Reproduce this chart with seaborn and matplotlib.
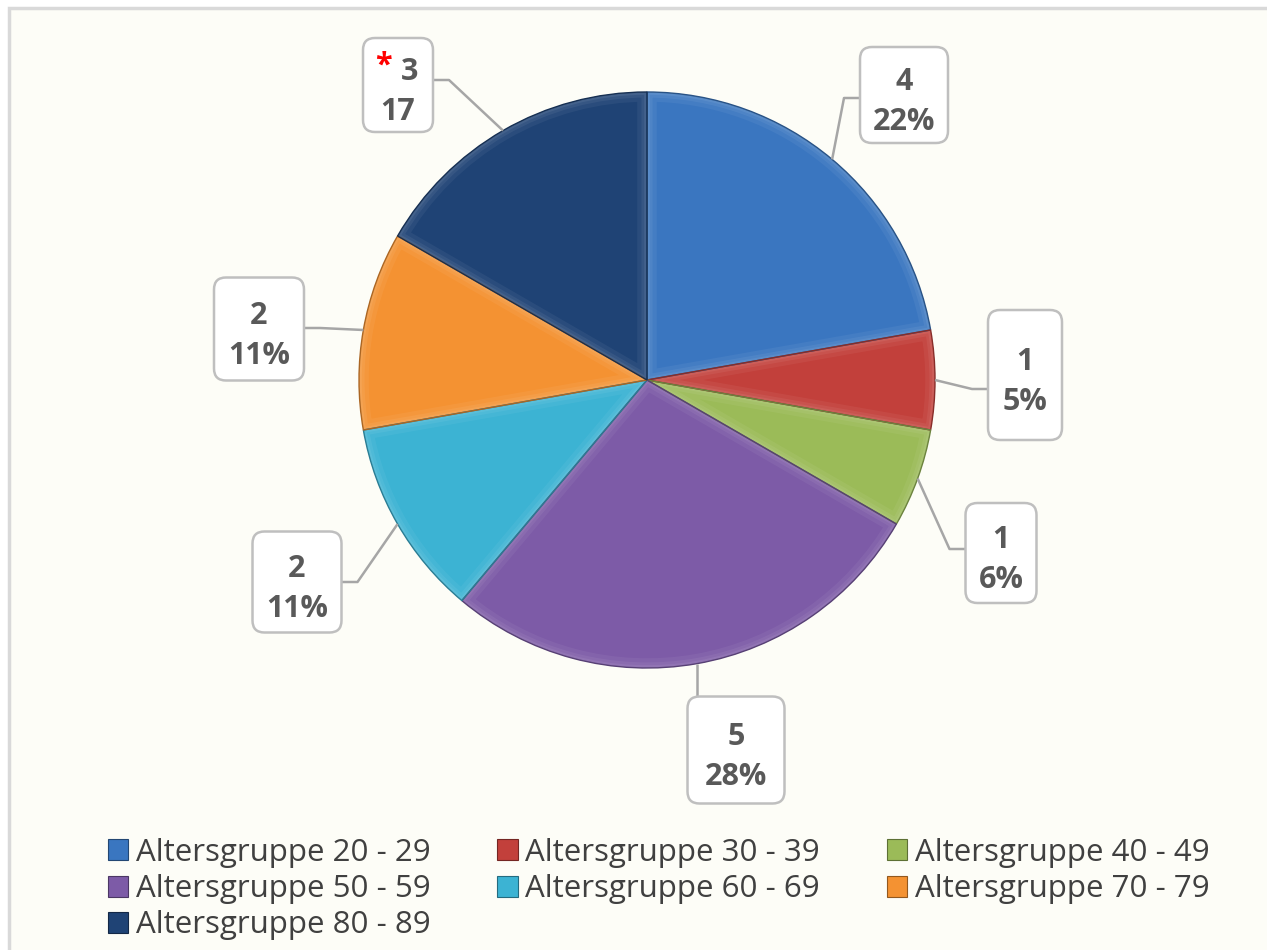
import numpy as np
import matplotlib
matplotlib.use("Agg")
import matplotlib.pyplot as plt
from matplotlib.patches import Rectangle, FancyBboxPatch, Patch, Wedge
import matplotlib.colors as mcolors
import seaborn as sns

# Daten
groups = ["Altersgruppe 20 - 29", "Altersgruppe 30 - 39", "Altersgruppe 40 - 49",
          "Altersgruppe 50 - 59", "Altersgruppe 60 - 69", "Altersgruppe 70 - 79",
          "Altersgruppe 80 - 89"]
counts = [4, 1, 1, 5, 2, 2, 3]
pct_labels = ["22%", "5%", "6%", "28%", "11%", "11%", "17"]
flags = ["", "", "", "", "", "", "*"]
colors = ["#3A76C0", "#C2403B", "#9BBB58", "#7D5BA7", "#3CB3D3", "#F49232", "#1F4375"]

# Layout (Pixel): Kreismitte, Radius, Beschriftungsboxen
W, H = 1267, 950
cx, cy, rad = 647, 380, 288
box_centers = [(904, 95), (1025, 375), (1001, 553), (736, 750),
               (297, 582), (259, 329), (398, 85)]
box_sizes = [(88, 96), (74, 130), (71, 100), (97, 107), (89, 101), (90, 103), (70, 94)]
attach = [("l", 98), ("l", 389), ("l", 549), ("t", 695), ("r", 582), ("r", 328), ("r", 80)]
elbow = 16


def shade(c, f):
    r, g, b = mcolors.to_rgb(c)
    return (r * f, g * f, b * f)


def tint(c, f):
    r, g, b = mcolors.to_rgb(c)
    return (r + (1 - r) * f, g + (1 - g) * f, b + (1 - b) * f)


sns.set_theme(style="white")
plt.rcParams["font.family"] = ["Open Sans", "DejaVu Sans"]

fig = plt.figure(figsize=(W / 100, H / 100), dpi=100, facecolor="white")
ax = fig.add_axes([0, 0, 1, 1])

ax.add_patch(Rectangle((9, 8), W + 50, H + 50, facecolor="#FDFDF7",
                       edgecolor="#D9D9D9", lw=2.5, zorder=0))

wedges, _ = ax.pie(counts, colors=colors, startangle=-90, counterclock=True,
                   center=(cx, cy), radius=rad,
                   wedgeprops=dict(linewidth=0))
for w, c in zip(wedges, colors):
    w.set_zorder(2)
    # weicher heller Rand innen (Bevel-Andeutung)
    for lw, a in [(14, 0.10), (8, 0.12), (4, 0.15)]:
        rim = Wedge((cx, cy), rad, w.theta1, w.theta2, facecolor="none",
                    edgecolor=tint(c, 0.5), lw=lw, alpha=a, zorder=2.5)
        ax.add_patch(rim)
        rim.set_clip_path(w)
    ax.add_patch(Wedge((cx, cy), rad, w.theta1, w.theta2, facecolor="none",
                       edgecolor=shade(c, 0.7), lw=1.0, zorder=2.6))
ax.set_xlim(0, W)
ax.set_ylim(H, 0)
ax.set_aspect("equal")
ax.axis("off")

txt_color = "#595959"
for i, w in enumerate(wedges):
    mid = np.deg2rad((w.theta1 + w.theta2) / 2)
    px, py = cx + rad * np.cos(mid), cy + rad * np.sin(mid)
    bx, by = box_centers[i]
    bw, bh = box_sizes[i]
    side, ay = attach[i]
    if side == "l":
        ex = bx - bw / 2
        xs, ys = [ex, ex - elbow, px], [ay, ay, py]
    elif side == "r":
        ex = bx + bw / 2
        xs, ys = [ex, ex + elbow, px], [ay, ay, py]
    else:
        xs, ys = [px, px], [by - bh / 2, py]
    ax.plot(xs, ys, color="#A6A6A6", lw=1.8, zorder=3, solid_capstyle="butt")

    ax.add_patch(FancyBboxPatch((bx - bw / 2, by - bh / 2), bw, bh,
                                boxstyle="round,pad=0,rounding_size=12",
                                facecolor="white", edgecolor="#BFBFBF", lw=1.8, zorder=4))
    first = str(counts[i])
    if flags[i]:
        ax.text(bx + 12, by - 13, first, ha="center", va="center", fontsize=22,
                fontweight="bold", color=txt_color, zorder=5)
        ax.text(bx - 15, by - 19, flags[i], ha="center", va="center", fontsize=22,
                fontweight="bold", color="red", zorder=5)
    else:
        ax.text(bx, by - 13, first, ha="center", va="center", fontsize=22,
                fontweight="bold", color=txt_color, zorder=5)
    ax.text(bx, by + 27, pct_labels[i], ha="center", va="center", fontsize=22,
            fontweight="bold", color=txt_color, zorder=5)

# Legende zeilenweise sortiert
order = [0, 3, 6, 1, 4, 2, 5]
handles = [Patch(facecolor=colors[k], edgecolor=shade(colors[k], 0.6), lw=0.8) for k in order]
labels = [groups[k] for k in order]
leg = ax.legend(handles, labels, ncol=3, loc="upper left", bbox_to_anchor=(0.085, 0.118),
                frameon=False, fontsize=22.5, handlelength=0.65, handleheight=0.65,
                handletextpad=0.25, columnspacing=2.14, labelspacing=0.2,
                borderpad=0, borderaxespad=0)
for t in leg.get_texts():
    t.set_color("#404040")

fig.savefig("out.png", dpi=100, facecolor="white")
